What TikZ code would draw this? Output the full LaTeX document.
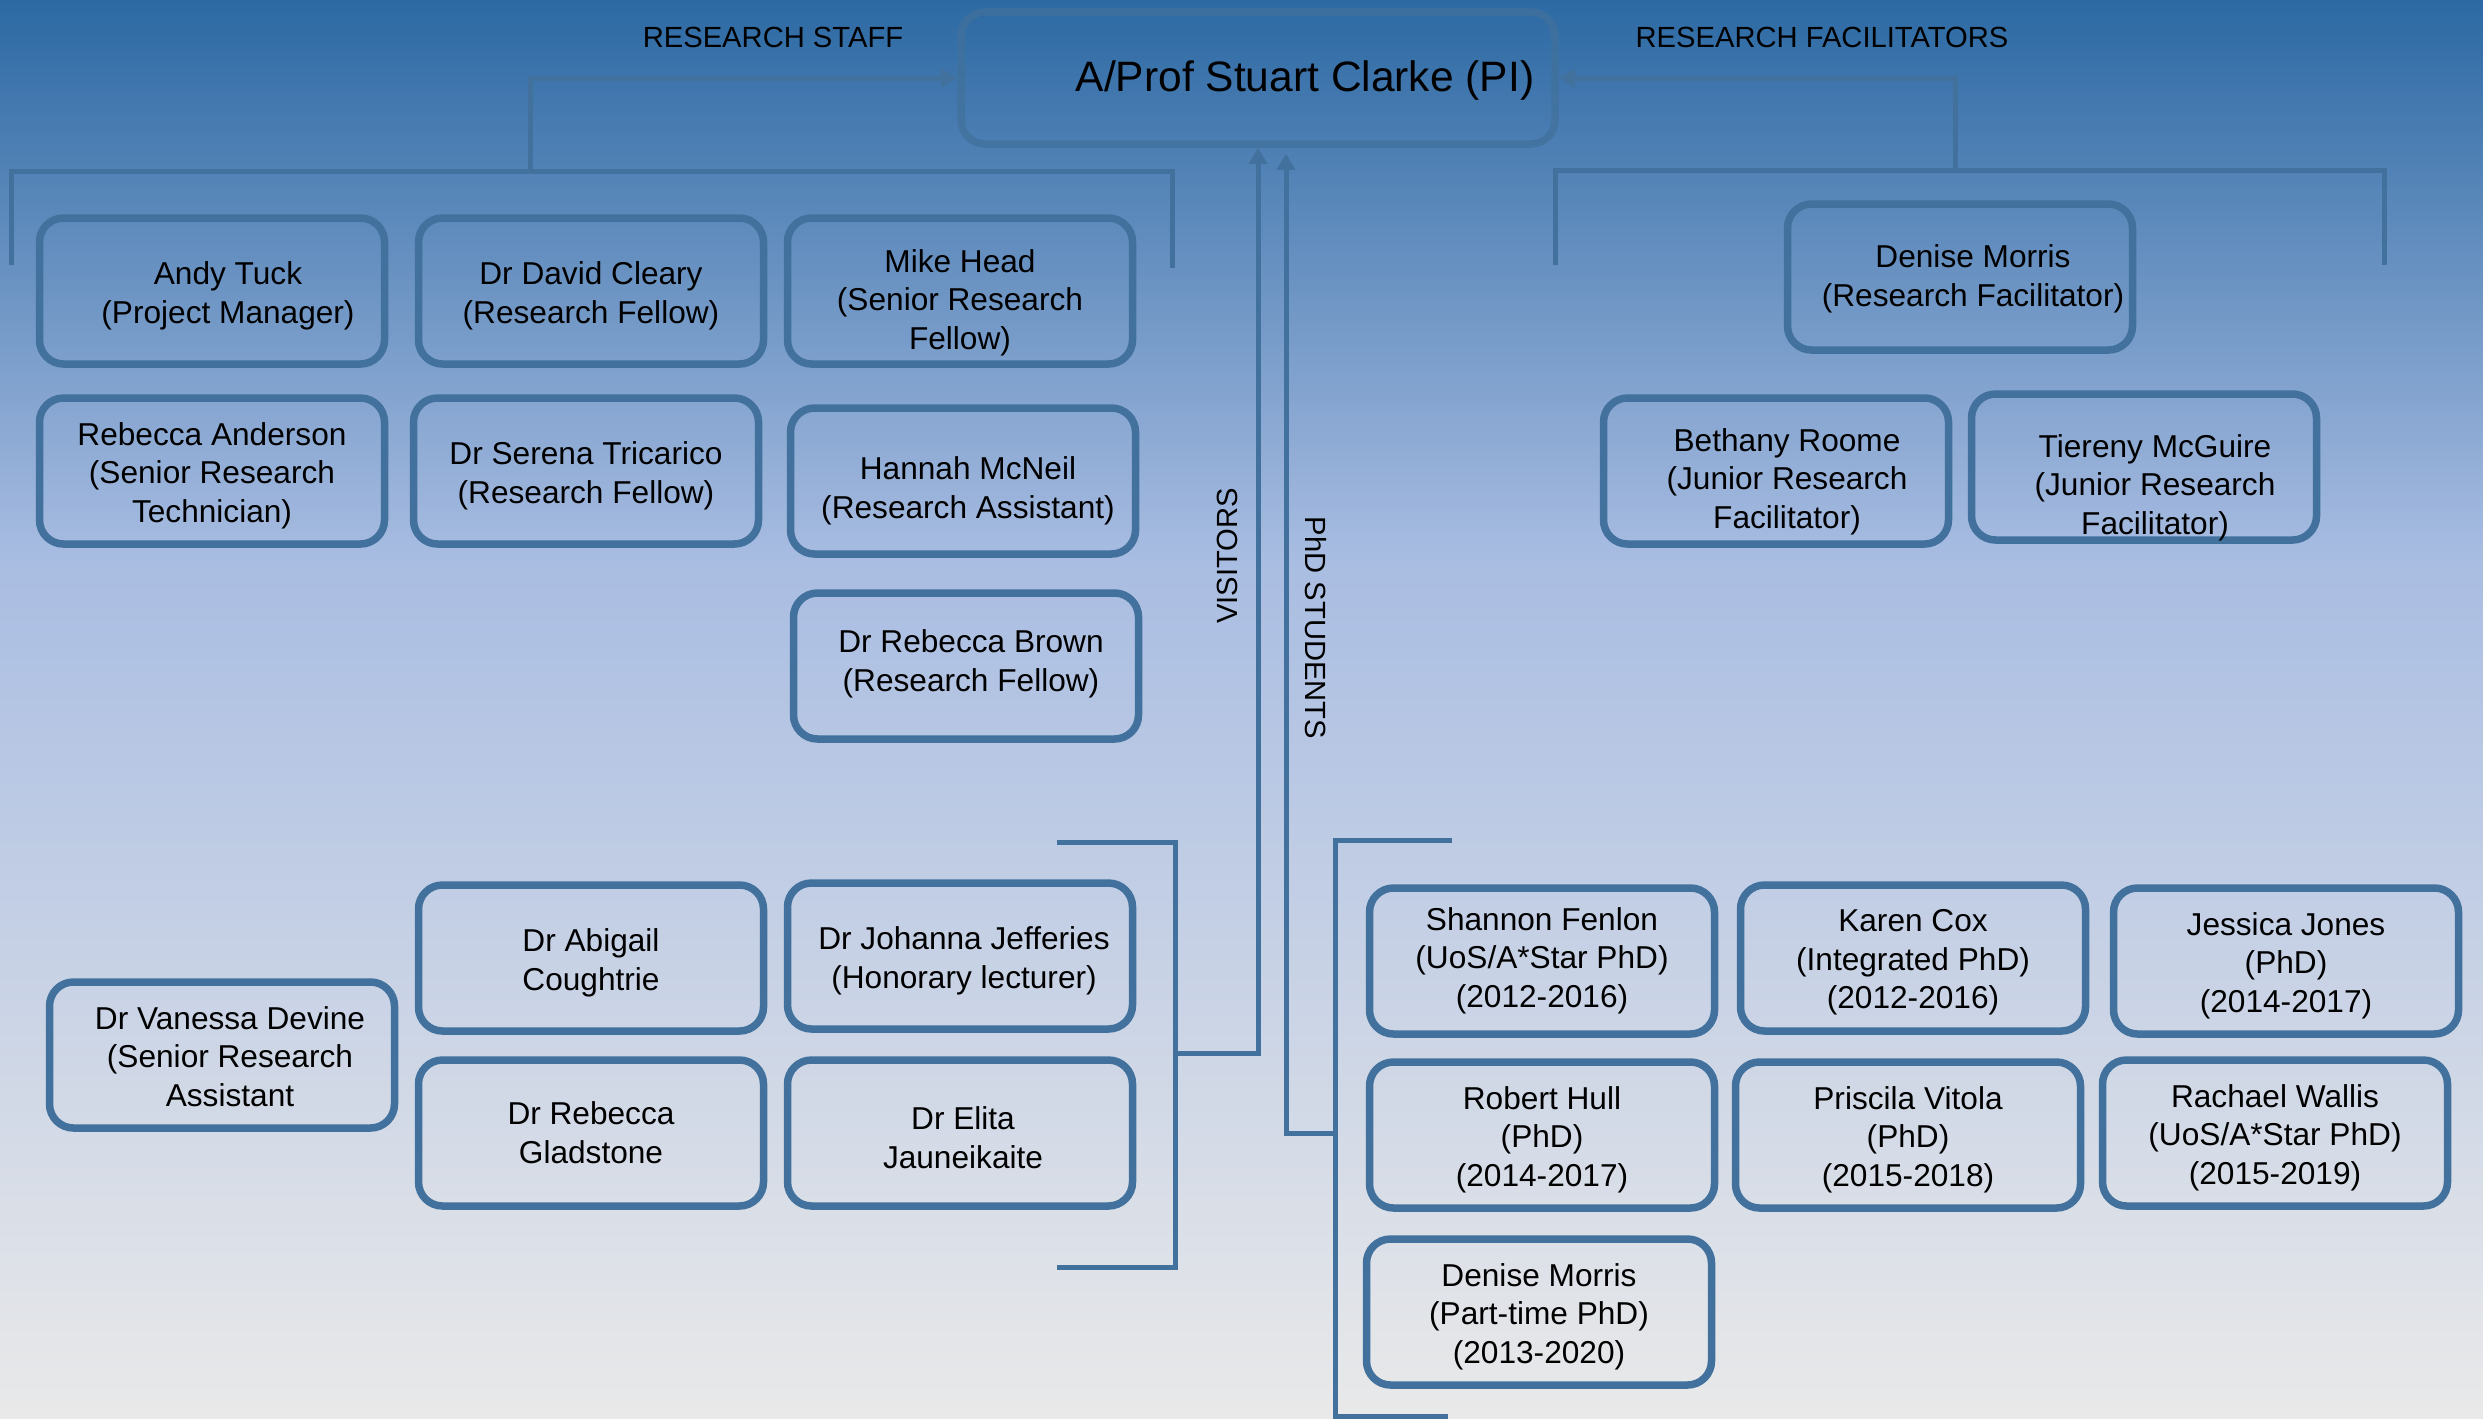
\documentclass[tikz,border=0pt]{standalone}
\usepackage{fontspec}
\setmainfont{Liberation Sans}
\usetikzlibrary{arrows.meta}
\definecolor{bgA}{HTML}{2C69A3}
\definecolor{bgB}{HTML}{A9BDE2}
\definecolor{bgC}{HTML}{E9E9E9}
\definecolor{ln}{HTML}{41719C}
\newcommand\pers[4]{%
  \node[pbox] (#1) at (#2) {};
  \node[ptext] (#1-t) at ([shift={(#3)}]#1.center) {#4};}
\begin{document}
\begin{tikzpicture}[x=0.1mm,y=-0.1mm,
  pbox/.style={draw=ln, line width=0.75mm, rounded corners=2.4mm,
    minimum width=34.5mm, minimum height=14.6mm, inner sep=0pt},
  ptext/.style={align=center, font=\fontsize{9}{11}\selectfont, inner sep=0pt, yshift=-0.45mm},
  conn/.style={draw=ln, line width=0.5mm},
  arr/.style={conn, -{Triangle[length=1.6mm,width=1.8mm]}},
  lbl/.style={font=\fontsize{8.3}{10}\selectfont, inner sep=0pt}]
\useasboundingbox (0,0) rectangle (2483,1418);
\shade[top color=bgA, bottom color=bgB] (0,0) rectangle (2483,561);
\shade[top color=bgB, bottom color=bgC] (0,559) rectangle (2483,1418);

% PI
\node[pbox, minimum width=59.4mm, minimum height=13.2mm, draw opacity=0.75] (pi) at (1258,78) {};
\node[font=\fontsize{12.1}{14}\selectfont, inner sep=0pt] (pi-t) at (1305,80) {A/Prof Stuart Clarke (PI)};

% group labels
\node[lbl] (lstaff) at (773,37) {RESEARCH STAFF};
\node[lbl] (lfac) at (1822,37) {RESEARCH FACILITATORS};
\node[lbl, rotate=90] (lvis) at (1227,556) {VISITORS};
\node[lbl, rotate=-90] (lphd) at (1316,628) {PhD STUDENTS};

% brackets
\draw[conn] (11,265) -- (11,171) -- (1172,171) -- (1172,268);
\draw[conn] (1555,265) -- (1555,170) -- (2384,170) -- (2384,265);
\draw[conn] (1057,842) -- (1175,842) -- (1175,1267) -- (1057,1267);
\draw[conn] (1452,840) -- (1335,840) -- (1335,1416) -- (1448,1416);

% connectors to PI
\coordinate (sb) at (530,171);
\coordinate (fb) at (1955,170);
\coordinate (vb) at (1175,1053);
\coordinate (pb) at (1335,1133);
\draw[arr] (sb) |- (pi.west);
\draw[arr] (fb) |- (pi.east);
\draw[arr] (vb) -| (pi.south);
\draw[arr, shorten >=0.6mm] (pb) -| ([xshift=2.8mm]pi.south);

% research staff
\pers{andy}{212,291}{16,0}{Andy Tuck\\(Project Manager)}
\pers{cleary}{591,291}{0,0}{Dr David Cleary\\(Research Fellow)}
\pers{head}{960,291}{0,7}{Mike Head\\(Senior Research\\Fellow)}
\pers{anderson}{212,471}{0,0}{Rebecca Anderson\\(Senior Research\\Technician)}
\pers{tricarico}{586,471}{0,0}{Dr Serena Tricarico\\(Research Fellow)}
\pers{mcneil}{963,481}{5,5}{Hannah McNeil\\(Research Assistant)}
\pers{brown}{966,666}{5,-7}{Dr Rebecca Brown\\(Research Fellow)}

% research facilitators
\pers{denise}{1960,277}{13,-3}{Denise Morris\\(Research Facilitator)}
\pers{roome}{1776,471}{11,6}{Bethany Roome\\(Junior Research\\Facilitator)}
\pers{mcguire}{2144,467}{11,16}{Tiereny McGuire\\(Junior Research\\Facilitator)}

% visitors
\pers{devine}{222,1055}{8,-3}{Dr Vanessa Devine\\(Senior Research\\Assistant}
\pers{coughtrie}{591,958}{0,0}{Dr Abigail\\Coughtrie}
\pers{jefferies}{960,956}{4,0}{Dr Johanna Jefferies\\(Honorary lecturer)}
\pers{gladstone}{591,1133}{0,-5}{Dr Rebecca\\Gladstone}
\pers{jauneikaite}{960,1133}{3,0}{Dr Elita\\Jauneikaite}

% PhD students
\pers{fenlon}{1542,961}{0,-5}{Shannon Fenlon\\(UoS/A*Star PhD)\\(2012-2016)}
\pers{cox}{1913,958}{0,0}{Karen Cox\\(Integrated PhD)\\(2012-2016)}
\pers{jones}{2286,961}{0,0}{Jessica Jones\\(PhD)\\(2014-2017)}
\pers{hull}{1542,1135}{0,0}{Robert Hull\\(PhD)\\(2014-2017)}
\pers{vitola}{1908,1135}{0,0}{Priscila Vitola\\(PhD)\\(2015-2018)}
\pers{wallis}{2275,1133}{0,0}{Rachael Wallis\\(UoS/A*Star PhD)\\(2015-2019)}
\pers{morrisphd}{1539,1312}{0,0}{Denise Morris\\(Part-time PhD)\\(2013-2020)}
\end{tikzpicture}
\end{document}
